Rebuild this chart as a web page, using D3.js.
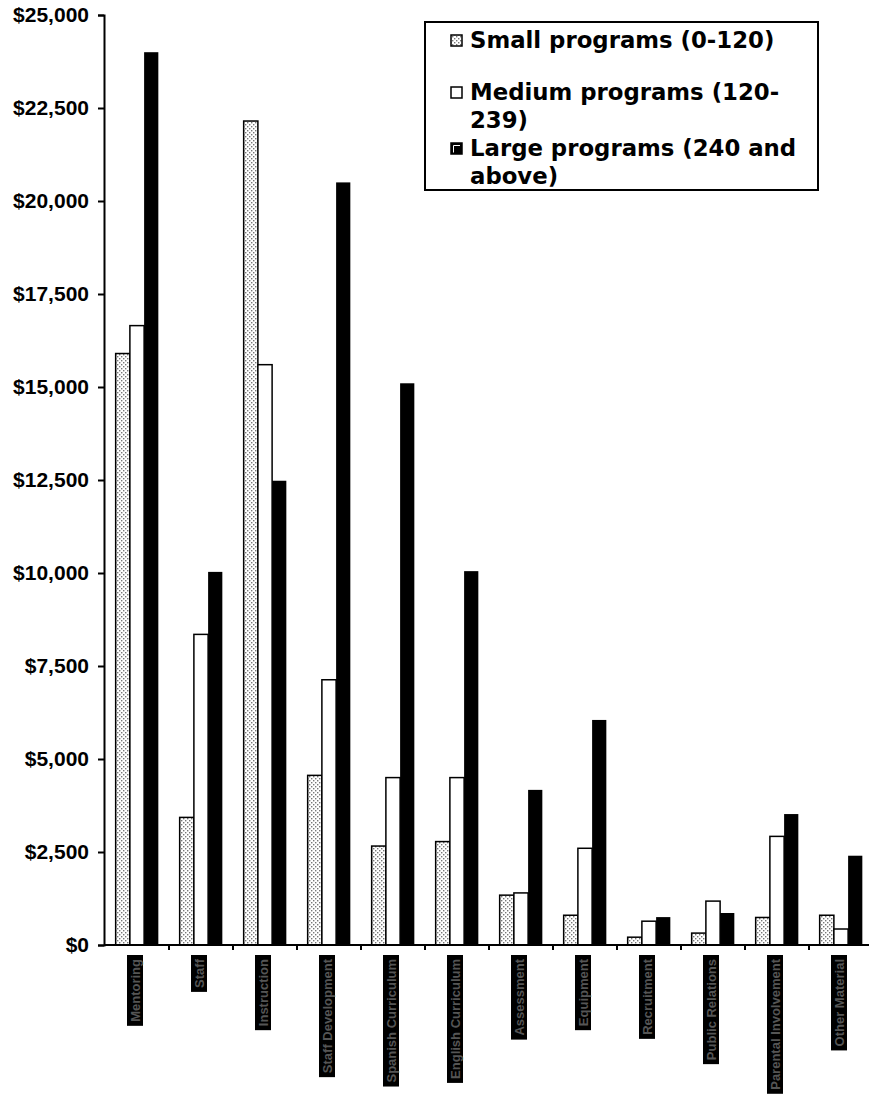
<!DOCTYPE html>
<html>
<head>
<meta charset="utf-8">
<script src="https://cdn.jsdelivr.net/npm/d3@7"></script>
<style>
    body { margin: 0; background: #fff; }
    svg { display: block; }
</style>
</head>
<body>
<svg id="chart" width="869" height="1095"></svg>
<script>

//
// ***********************************************************************************
//                      DATA
// ***********************************************************************************
//

const categories = [
    "Mentoring", "Staff", "Instruction", "Staff Development",
    "Spanish Curriculum", "English Curriculum", "Assessment", "Equipment",
    "Recruitment", "Public Relations", "Parental Involvement", "Other Material"
];

const seriesNames = [
    ["Small programs (0-120)"],
    ["Medium programs (120-", "239)"],
    ["Large programs (240 and", "above)"]
];

const smallValues  = [15900, 3430, 22150, 4560, 2660, 2780, 1340, 800, 210, 320, 740, 800];
const mediumValues = [16650, 8350, 15600, 7130, 4500, 4500, 1400, 2600, 640, 1180, 2920, 430];
const largeValues  = [24000, 10030, 12480, 20500, 15100, 10050, 4170, 6050, 750, 860, 3520, 2400];

const yTicks = [0, 2500, 5000, 7500, 10000, 12500, 15000, 17500, 20000, 22500, 25000];

//
// ***********************************************************************************
//                      CHART
// ***********************************************************************************
//

const svg = d3.select("#chart");

// Plot frame (the last band runs slightly past the right edge, as in the original).
const plotLeft = 105, bandStep = 64, baseline = 945, plotTop = 15;

const x0 = d3.scaleBand()
    .domain(categories)
    .range([plotLeft, plotLeft + bandStep * categories.length])
    .padding(0);

// Excel style: gap width 150% -> bar = band / 4.5
const barW = x0.bandwidth() / 4.5;
const x1 = d3.scaleBand()
    .domain([0, 1, 2])
    .range([barW * 0.75, barW * 3.75])
    .padding(0);

const y = d3.scaleLinear()
    .domain([0, 25000])
    .range([baseline, plotTop]);

// Dotted fill for the small programs series.
const defs = svg.append("defs");
const pat = defs.append("pattern")
    .attr("id", "dots")
    .attr("patternUnits", "userSpaceOnUse")
    .attr("width", 4)
    .attr("height", 4);
pat.append("rect").attr("width", 4).attr("height", 4).attr("fill", "#fff");
pat.append("rect").attr("x", 0).attr("y", 0).attr("width", 1.4).attr("height", 1.4).attr("fill", "#777");
pat.append("rect").attr("x", 2).attr("y", 2).attr("width", 1.4).attr("height", 1.4).attr("fill", "#777");

const seriesStyle = [
    { fill: "url(#dots)", stroke: "#000" },
    { fill: "#fff", stroke: "#000" },
    { fill: "#000", stroke: "none" }
];

// Bars
const rows = categories.map((c, i) => ({
    cat: c,
    values: [smallValues[i], mediumValues[i], largeValues[i]]
}));

svg.append("g")
    .selectAll("g")
    .data(rows)
    .join("g")
        .attr("transform", d => `translate(${x0(d.cat)},0)`)
    .selectAll("rect")
    .data(d => d.values.map((v, s) => ({ v, s })))
    .join("rect")
        .attr("x", d => x1(d.s))
        .attr("y", d => y(d.v))
        .attr("width", x1.bandwidth())
        .attr("height", d => baseline - y(d.v))
        .attr("fill", d => seriesStyle[d.s].fill)
        .attr("stroke", d => seriesStyle[d.s].stroke)
        .attr("stroke-width", 1.5);

// Y axis
const yAxis = svg.append("g")
    .attr("transform", `translate(${plotLeft - 1},0)`)
    .call(d3.axisLeft(y)
        .tickValues(yTicks)
        .tickSize(6)
        .tickPadding(9)
        .tickFormat(d => "$" + d3.format(",")(d)));
yAxis.select(".domain").attr("stroke-width", 2);
yAxis.selectAll(".tick line").attr("stroke-width", 2);
yAxis.selectAll("text")
    .attr("font-family", "Liberation Sans, Arial, sans-serif")
    .attr("font-weight", "bold")
    .attr("font-size", 21)
    .attr("fill", "#000");

// X axis: line plus ticks at the band boundaries
const xAxis = svg.append("g");
xAxis.append("line")
    .attr("x1", plotLeft - 1).attr("x2", 869)
    .attr("y1", baseline).attr("y2", baseline)
    .attr("stroke", "#000").attr("stroke-width", 2);
xAxis.selectAll("line.tick")
    .data(categories.slice(1))
    .join("line")
        .classed("tick", true)
        .attr("x1", d => x0(d)).attr("x2", d => x0(d))
        .attr("y1", baseline).attr("y2", baseline + 5)
        .attr("stroke", "#000").attr("stroke-width", 2);

// Category labels: rotated grey text on black boxes
const labels = svg.append("g")
    .selectAll("g")
    .data(categories)
    .join("g")
        .attr("transform", d => `translate(${x0(d) + x0.bandwidth() / 2 - 2},955)`);

labels.each(function(d) {
    const g = d3.select(this);
    const box = g.append("rect");
    const t = g.append("text")
        .attr("transform", "rotate(-90)")
        .attr("x", -4)
        .attr("dy", "0.36em")
        .attr("text-anchor", "end")
        .attr("font-family", "Liberation Sans, Arial, sans-serif")
        .attr("font-weight", "bold")
        .attr("font-size", 13)
        .attr("fill", "#555")
        .text(d);
    const len = t.node().getComputedTextLength();
    box.attr("x", -8).attr("y", 0)
        .attr("width", 16)
        .attr("height", len + 8)
        .attr("fill", "#000");
});

// Legend
const legend = svg.append("g");
legend.append("rect")
    .attr("x", 425).attr("y", 22)
    .attr("width", 393).attr("height", 168)
    .attr("fill", "#fff")
    .attr("stroke", "#000").attr("stroke-width", 2);

const legendBase = [48, 100, 156];
const lineGap = 28;

seriesNames.forEach((lines, i) => {
    const by = legendBase[i];
    const m = legend.append("g");
    m.append("rect")
        .attr("x", 451).attr("y", by - 13)
        .attr("width", 11).attr("height", 11)
        .attr("fill", seriesStyle[i].fill)
        .attr("stroke", "#000").attr("stroke-width", 1.5);
    if (i === 2) {
        m.append("path")
            .attr("d", `M${453.5},${by - 3.5} V${by - 10.5} H${460}`)
            .attr("fill", "none").attr("stroke", "#fff").attr("stroke-width", 1);
    }
    const t = legend.append("text")
        .attr("x", 470).attr("y", by)
        .attr("font-family", "DejaVu Sans, Verdana, sans-serif")
        .attr("font-weight", "bold")
        .attr("font-size", 22.8)
        .attr("fill", "#000");
    lines.forEach((ln, k) => {
        t.append("tspan")
            .attr("x", 470)
            .attr("dy", k === 0 ? 0 : lineGap)
            .text(ln);
    });
});

</script>
</body>
</html>
